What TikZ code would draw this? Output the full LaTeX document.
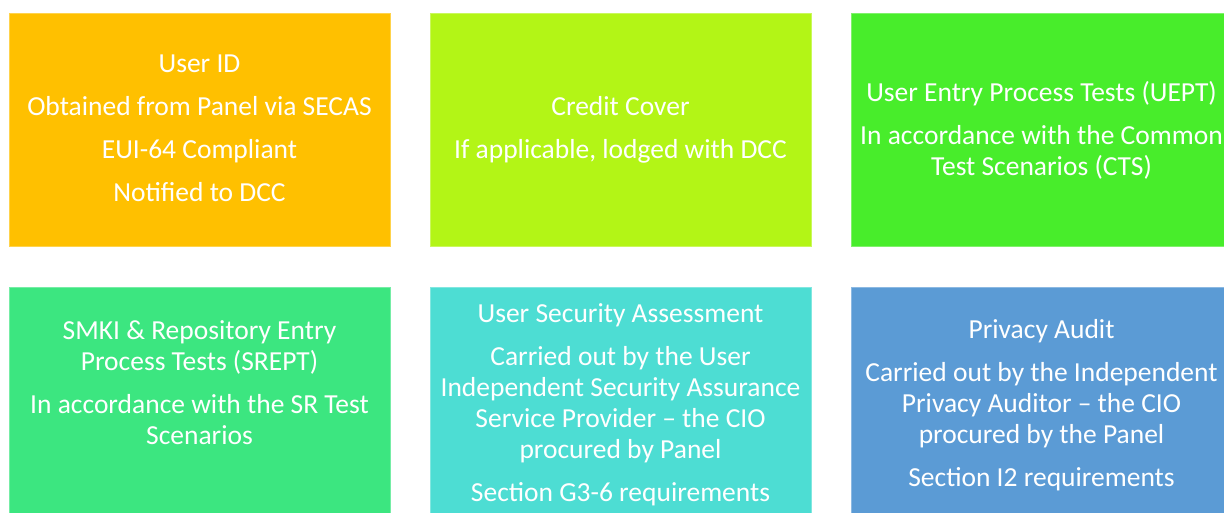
\documentclass[tikz,border=0pt]{standalone}
\usepackage{fontspec}
\setmainfont{Carlito}
\definecolor{cOrange}{RGB}{255,192,0}
\definecolor{cLime}{RGB}{179,245,22}
\definecolor{cGreen}{RGB}{72,237,43}
\definecolor{cSea}{RGB}{60,230,128}
\definecolor{cCyan}{RGB}{77,221,211}
\definecolor{cBlue}{RGB}{91,155,213}
\begin{document}
\begin{tikzpicture}[x=1pt,y=-1pt,
  panel/.style={rectangle, inner sep=0pt, minimum width=381pt, minimum height=233pt, anchor=north west, draw=#1!70!white, fill=#1, line width=0.8pt},
  txt/.style={text=white, align=center, inner sep=0pt, font=\fontsize{27.5}{31}\selectfont}]
\useasboundingbox (0,0) rectangle (1224,513);
\begin{scope}
\clip (0,0) rectangle (1224,513);
\node[panel=cOrange] (b1) at (9,13) {};
\node[panel=cLime] (b2) at (430,13) {};
\node[panel=cGreen] (b3) at (851,13) {};
\node[panel=cSea] (b4) at (9,287) {};
\node[panel=cCyan] (b5) at (430,287) {};
\node[panel=cBlue] (b6) at (851,287) {};

\node[txt] (t1) at (199.5,128.5) {User ID\\[12pt]Obtained from Panel via SECAS\\[12pt]EUI-64 Compliant\\[12pt]Notified to DCC};
\node[txt] (t2) at (620.5,130) {Credit Cover\\[12pt]If applicable, lodged with DCC};
\node[txt] (t3) at (1041.5,130.5) {User Entry Process Tests (UEPT)\\[12pt]In accordance with the Common\\Test Scenarios (CTS)};
\node[txt] (t4) at (199.5,382.5) {SMKI \& Repository Entry\\Process Tests (SREPT)\\[12pt]In accordance with the SR Test\\Scenarios};
\node[txt] (t5) at (620.5,404.5) {User Security Assessment\\[12pt]Carried out by the User\\Independent Security Assurance\\Service Provider -- the CIO\\procured by Panel\\[12pt]Section G3-6 requirements};
\node[txt] (t6) at (1041.5,405.5) {Privacy Audit\\[12pt]Carried out by the Independent\\Privacy Auditor -- the CIO\\procured by the Panel\\[12pt]Section I2 requirements};
\end{scope}
\end{tikzpicture}
\end{document}
